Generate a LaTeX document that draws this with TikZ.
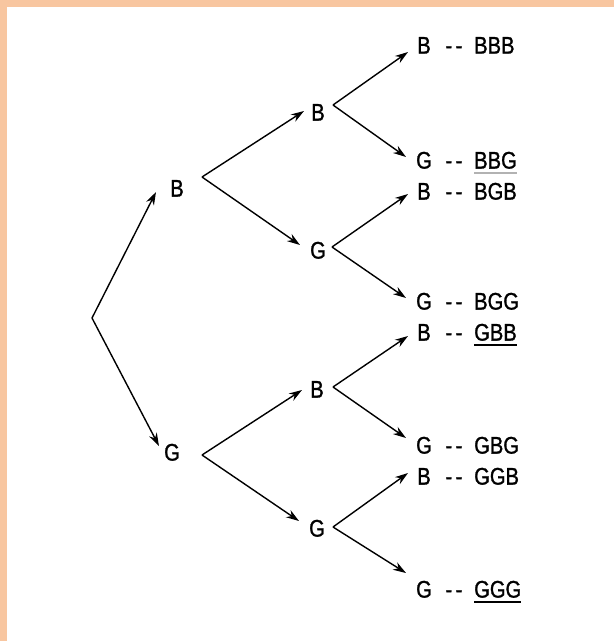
\documentclass[tikz,border=0pt]{standalone}
\usepackage{fontspec}
\setmainfont{Liberation Sans}
\newfontfamily\lblfont[FakeStretch=0.84,FakeBold=1.2]{Liberation Sans}
\usetikzlibrary{arrows.meta}
\definecolor{peach}{RGB}{248,198,160}
\begin{document}
\begin{tikzpicture}[x=1pt,y=-1pt,
  lbl/.style={font=\lblfont\fontsize{24}{28}\selectfont, inner sep=0pt, text height=17.2pt, text depth=0pt},
  outc/.style={lbl, anchor=west},
  arr/.style={line width=1.4pt, -{Stealth[length=13pt,width=8.5pt]}},
  ul/.style={line width=1.8pt},
]
\useasboundingbox (0,0) rectangle (614,641);
\fill[white] (0,0) rectangle (614,641);
\fill[peach] (0,0) rectangle (614,7);
\fill[peach] (0,0) rectangle (7,641);

% level 1 labels
\node[lbl] (b1) at (177,188) {B};
\node[lbl] (g1) at (172,452) {G};
% level 2 labels
\node[lbl] (bb) at (318,112) {B};
\node[lbl] (bg) at (318,250) {G};
\node[lbl] (gb) at (317,389) {B};
\node[lbl] (gg) at (317,528) {G};
% leaves
\node[lbl] (bbb) at (424,45) {B};
\node[lbl] (bbg) at (424,160) {G};
\node[lbl] (bgb) at (424,191) {B};
\node[lbl] (bgg) at (424,301) {G};
\node[lbl] (gbb) at (424,332) {B};
\node[lbl] (gbg) at (424,445) {G};
\node[lbl] (ggb) at (424,476) {B};
\node[lbl] (ggg) at (424,589) {G};

% outcomes
\foreach \n/\t/\y in {obbb/BBB/45, obbg/BBG/160, obgb/BGB/191, obgg/BGG/301, ogbb/GBB/332, ogbg/GBG/445, oggb/GGB/476, oggg/GGG/589}{
  \node[lbl] (d\n) at (454,\y) {-\kern3.5pt-};
  \node[outc] (\n) at (474,\y) {\t};
}
\draw[ul, gray!60] ([yshift=-4pt]obbg.south west) -- ([yshift=-4pt]obbg.south east);
\draw[ul] ([yshift=-4pt]ogbb.south west) -- ([yshift=-4pt]ogbb.south east);
\draw[ul] ([yshift=-4pt]oggg.south west) -- ([yshift=-4pt]oggg.south east);

% vertices
\coordinate (r) at (92,318);
\coordinate (vb1) at (202,177);
\coordinate (vg1) at (202,455);
\coordinate (vbb) at (333,105);
\coordinate (vbg) at (332,247);
\coordinate (vgb) at (333,387);
\coordinate (vgg) at (333,527);
% arrow tips
\coordinate (tb1) at (156,192);
\coordinate (tg1) at (159,446);
\coordinate (tbb) at (304,111);
\coordinate (tbg) at (300,245);
\coordinate (tgb) at (302,390);
\coordinate (tgg) at (299,521);
\coordinate (tbbb) at (408,52);
\coordinate (tbbg) at (406,157);
\coordinate (tbgb) at (408,194);
\coordinate (tbgg) at (406,298);
\coordinate (tgbb) at (408,336);
\coordinate (tgbg) at (406,438);
\coordinate (tggb) at (408,473);
\coordinate (tggg) at (406,573);

\foreach \a/\b in {r/tb1, r/tg1, vb1/tbb, vb1/tbg, vg1/tgb, vg1/tgg,
  vbb/tbbb, vbb/tbbg, vbg/tbgb, vbg/tbgg, vgb/tgbb, vgb/tgbg, vgg/tggb, vgg/tggg}
  \draw[arr] (\a) -- (\b);
\end{tikzpicture}
\end{document}
